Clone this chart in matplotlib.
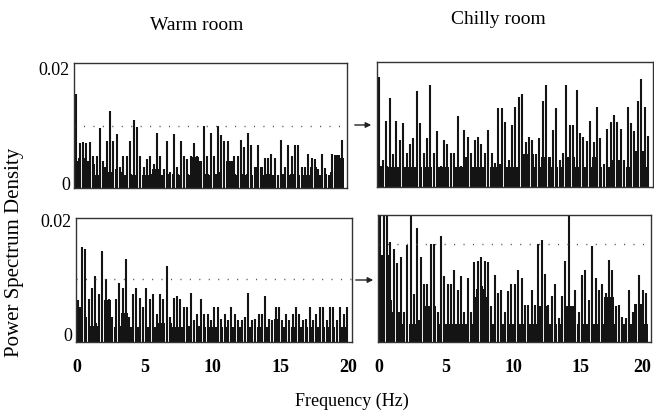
import numpy as np
import matplotlib
matplotlib.use("Agg")
import matplotlib.pyplot as plt
from matplotlib.patches import FancyArrowPatch
from matplotlib.transforms import ScaledTranslation

plt.rcParams['font.family'] = ['Liberation Serif', 'DejaVu Serif']

# ---------------- data (PSD values in units of 1e-3) ----------------
bin_width = 0.25  # Hz
n_bins = 80

warm_top_peaks = [
    15.6, 7.0, 7.2, 7.0, 7.2, 4.9, 4.9, 9.7, 4.0, 7.5,
    12.6, 7.5, 8.7, 3.0, 4.9, 4.9, 7.5, 11.1, 9.9, 4.9,
    3.0, 4.3, 4.9, 3.5, 8.8, 4.9, 2.5, 7.4, 2.0, 8.7,
    3.0, 7.5, 4.9, 4.3, 4.9, 7.1, 4.9, 3.5, 10.1, 4.9,
    8.8, 4.9, 10.1, 8.4, 7.5, 7.4, 3.5, 4.9, 4.9, 7.6,
    6.4, 8.8, 6.7, 2.9, 6.7, 2.5, 4.5, 4.5, 5.1, 4.5,
    1.6, 7.6, 3.0, 6.7, 4.9, 6.7, 6.7, 2.9, 2.9, 5.1,
    4.5, 4.3, 2.5, 5.1, 2.8, 1.5, 5.2, 2.0, 4.9, 7.6]
warm_top_base = [
    4.0, 4.5, 4.5, 4.0, 4.0, 3.5, 1.5, 1.5, 2.9, 2.9,
    2.0, 0, 2.6, 2.0, 1.5, 1.5, 1.8, 1.5, 1.5, 0,
    1.5, 1.5, 1.8, 2.5, 2.5, 1.5, 1.5, 1.8, 0, 1.8,
    1.8, 1.5, 0, 1.8, 1.5, 4.6, 4.6, 4.0, 1.8, 1.8,
    1.5, 1.8, 1.8, 2.0, 0, 4.0, 4.0, 1.8, 1.5, 1.8,
    1.5, 1.8, 1.5, 0, 3.0, 3.0, 1.5, 1.8, 1.5, 1.5,
    0, 1.8, 1.8, 1.5, 1.8, 1.8, 1.5, 0, 1.5, 1.5,
    2.9, 2.9, 1.5, 1.5, 1.8, 0, 2.0, 5.0, 5.0, 4.5]

chilly_top_peaks = [
    18.3, 4.0, 10.7, 14.6, 5.0, 10.7, 7.5, 10.3, 5.2, 6.8,
    7.8, 15.9, 10.3, 5.2, 7.8, 16.9, 5.2, 9.0, 3.0, 7.4,
    6.8, 5.2, 5.2, 11.6, 3.0, 9.2, 8.0, 5.2, 7.4, 8.0,
    6.8, 5.2, 9.1, 5.2, 3.5, 13.0, 13.0, 10.6, 4.0, 10.1,
    13.2, 14.8, 15.4, 7.0, 8.0, 7.5, 5.0, 7.8, 14.1, 17.0,
    3.2, 9.2, 13.0, 4.0, 5.2, 16.9, 10.1, 10.1, 16.1, 8.7,
    8.0, 7.2, 10.7, 7.0, 13.2, 7.8, 3.2, 9.3, 10.6, 11.7,
    10.6, 9.3, 4.0, 13.2, 10.3, 9.0, 14.2, 17.9, 13.2, 8.1]
chilly_top_base = [
    3.0, 3.0, 3.0, 2.8, 2.8, 2.8, 2.8, 2.8, 2.8, 2.8,
    2.8, 2.8, 2.8, 0, 2.8, 2.8, 0, 2.8, 2.8, 2.8,
    2.8, 0, 2.8, 2.8, 2.8, 4.5, 4.5, 2.8, 2.8, 2.8,
    2.8, 2.8, 0, 2.8, 2.8, 3.2, 3.2, 2.8, 2.8, 2.8,
    2.8, 2.8, 5.0, 5.0, 5.0, 5.0, 2.8, 2.8, 4.5, 4.5,
    4.5, 2.8, 2.8, 0, 2.8, 4.5, 4.5, 4.5, 2.8, 2.8,
    2.8, 2.8, 2.8, 4.5, 4.5, 2.8, 0, 2.8, 2.8, 4.0,
    4.0, 4.0, 0, 2.8, 2.8, 5.5, 5.5, 5.5, 5.5, 2.8]

warm_bot_peaks = [
    6.0, 15.3, 15.0, 6.2, 8.2, 10.3, 7.1, 14.6, 9.7, 6.2,
    3.0, 6.2, 9.1, 8.1, 13.2, 3.0, 7.1, 8.1, 6.4, 4.7,
    8.1, 6.2, 7.1, 3.6, 7.1, 6.2, 12.1, 3.0, 6.4, 6.8,
    6.2, 4.7, 4.7, 7.2, 2.5, 3.6, 6.2, 3.5, 3.5, 2.5,
    4.7, 4.7, 2.6, 3.5, 2.5, 4.7, 3.5, 2.5, 2.4, 3.0,
    7.2, 2.5, 2.6, 3.5, 3.5, 6.8, 2.6, 2.5, 4.7, 4.7,
    2.5, 3.5, 2.5, 3.5, 4.7, 3.5, 2.5, 2.6, 4.7, 2.5,
    3.5, 4.7, 4.7, 2.5, 4.7, 4.7, 2.5, 4.7, 3.5, 4.7]
warm_bot_base = [
    4.7, 4.7, 3.0, 0, 1.5, 2.0, 1.5, 0, 6.0, 6.0,
    0, 1.3, 1.5, 3.8, 3.8, 1.3, 1.3, 1.3, 1.3, 0,
    1.3, 1.3, 1.3, 1.3, 2.0, 2.0, 0, 2.0, 1.3, 1.3,
    1.3, 1.3, 1.5, 1.5, 0, 1.5, 1.5, 1.3, 0, 1.3,
    1.3, 1.3, 1.3, 0, 1.3, 1.3, 1.3, 1.3, 1.3, 0,
    1.3, 1.3, 0, 1.3, 1.3, 1.3, 1.3, 0, 2.6, 2.6,
    1.3, 1.3, 0, 1.3, 1.3, 1.3, 1.3, 1.3, 0, 1.3,
    1.3, 1.3, 1.3, 0, 1.3, 1.3, 0, 1.3, 1.3, 1.3]

chilly_bot_peaks = [
    22.0, 22.0, 22.0, 16.3, 15.0, 12.6, 13.7, 4.0, 15.7, 22.0,
    7.1, 18.8, 13.7, 8.8, 8.8, 15.9, 15.9, 4.0, 17.4, 10.3,
    8.8, 8.8, 11.4, 7.9, 10.3, 4.0, 10.0, 4.0, 12.8, 12.9,
    13.7, 12.9, 12.8, 5.0, 10.4, 7.2, 7.8, 4.0, 7.6, 8.8,
    8.8, 11.4, 10.0, 5.1, 5.1, 7.8, 5.1, 15.9, 16.6, 10.6,
    5.1, 6.8, 8.8, 2.9, 6.8, 12.9, 22.0, 5.0, 7.8, 4.0,
    10.4, 11.4, 6.0, 15.6, 10.0, 7.8, 8.8, 7.2, 13.2, 11.4,
    5.0, 5.1, 3.0, 2.9, 7.8, 4.0, 5.1, 10.4, 7.8, 7.2]
chilly_bot_base = [
    14.0, 14.0, 14.0, 6.0, 4.0, 4.0, 4.0, 1.8, 0, 1.8,
    1.8, 2.5, 2.5, 5.0, 5.0, 5.0, 5.0, 0, 1.8, 1.8,
    1.8, 1.8, 1.8, 1.8, 1.8, 1.8, 1.8, 1.8, 6.5, 8.0,
    8.5, 8.0, 6.5, 1.8, 1.8, 0, 1.8, 1.8, 1.8, 1.8,
    1.8, 1.8, 1.8, 1.8, 1.8, 1.8, 1.8, 5.0, 5.0, 5.0,
    1.8, 1.8, 1.8, 0, 1.8, 5.0, 5.0, 5.0, 0, 1.8,
    1.8, 1.8, 1.8, 1.8, 1.8, 1.8, 1.8, 6.5, 6.5, 6.5,
    1.8, 0, 1.8, 1.8, 1.8, 1.8, 5.3, 5.3, 5.3, 1.8]

# dotted reference levels (None = no line)
level_warm_top = 0.0100
level_chilly_top = None
level_warm_bot = 0.0097
level_chilly_bot = 0.0159

col_titles = ["Warm room", "Chilly room"]
x_ticks = [0, 5, 10, 15, 20]
y_ticks = [0, 0.02]
y_ticklabels = ["0", "0.02"]
x_label = "Frequency (Hz)"
y_label = "Power Spectrum Density"

# ---------------- figure ----------------
W, H = 654, 413
fig = plt.figure(figsize=(W / 100, H / 100), dpi=100)


def rect(x0, x1, y0, y1):
    return [x0 / W, 1 - y1 / H, (x1 - x0) / W, (y1 - y0) / H]


panels = [
    (rect(74, 347, 63, 188), warm_top_peaks, warm_top_base, level_warm_top, (-0.0007, 0.0209), True, False),
    (rect(377, 653, 62, 187), chilly_top_peaks, chilly_top_base, level_chilly_top, (-0.0007, 0.0209), False, False),
    (rect(76, 352, 218, 342), warm_bot_peaks, warm_bot_base, level_warm_bot, (-0.0014, 0.0205), True, True),
    (rect(378, 651, 215, 342), chilly_bot_peaks, chilly_bot_base, level_chilly_bot, (-0.0014, 0.0211), False, True),
]

ink = '#141414'
centers = (np.arange(n_bins) + 0.5) * bin_width

for idx, (r, peaks, base, level, ylim, show_y, show_x) in enumerate(panels):
    ax = fig.add_axes(r)
    p = np.array(peaks) * 1e-3
    b = np.array(base) * 1e-3
    y0 = ylim[0]
    mask = b > 0
    ax.bar(centers[mask], b[mask] - y0, bottom=y0, width=bin_width * 0.92,
           color=ink, edgecolor='none', linewidth=0)
    ax.vlines(centers, y0, p, color=ink, linewidth=1.5)
    if level is not None:
        ax.axhline(level, color='#555555', linewidth=1.0,
                   linestyle=(0, (0.8, 6)))
    ax.set_xlim(-0.05, 20.25)
    ax.set_ylim(*ylim)
    for s in ax.spines.values():
        s.set_color('#333333')
        s.set_linewidth(1.0)
    ax.tick_params(length=0)
    ax.set_yticks(y_ticks)
    if show_y:
        ax.set_yticklabels(y_ticklabels, fontsize=13)
        ax.tick_params(axis='y', pad=3)
    else:
        ax.set_yticklabels([])
    ax.set_xticks(x_ticks)
    if show_x:
        labels = ax.set_xticklabels([str(t) for t in x_ticks], fontsize=13,
                                    fontweight='bold')
        ax.tick_params(axis='x', pad=12)
        if idx == 3:
            last = labels[-1]
            last.set_transform(last.get_transform() +
                               ScaledTranslation(-5 / 100, 0, fig.dpi_scale_trans))
    else:
        ax.set_xticklabels([])

# column titles
fig.text(197 / W, 1 - 25 / H, col_titles[0], ha='center', va='center', fontsize=14)
fig.text(498 / W, 1 - 20 / H, col_titles[1], ha='center', va='center', fontsize=14)
# axis labels
fig.text(15 / W, 1 - 252 / H, y_label, ha='center', va='center',
         rotation=90, fontsize=15)
fig.text(352 / W, 1 - 401 / H, x_label, ha='center', va='center', fontsize=13)

# arrows between panels
for (x0, x1, yy) in [(352, 374, 125), (353, 376, 280)]:
    arr = FancyArrowPatch((x0 / W, 1 - yy / H), (x1 / W, 1 - yy / H),
                          transform=fig.transFigure, arrowstyle='-|>',
                          mutation_scale=8, color='#222222', linewidth=1.0)
    fig.add_artist(arr)

fig.savefig('out.png', dpi=100, facecolor='white')
